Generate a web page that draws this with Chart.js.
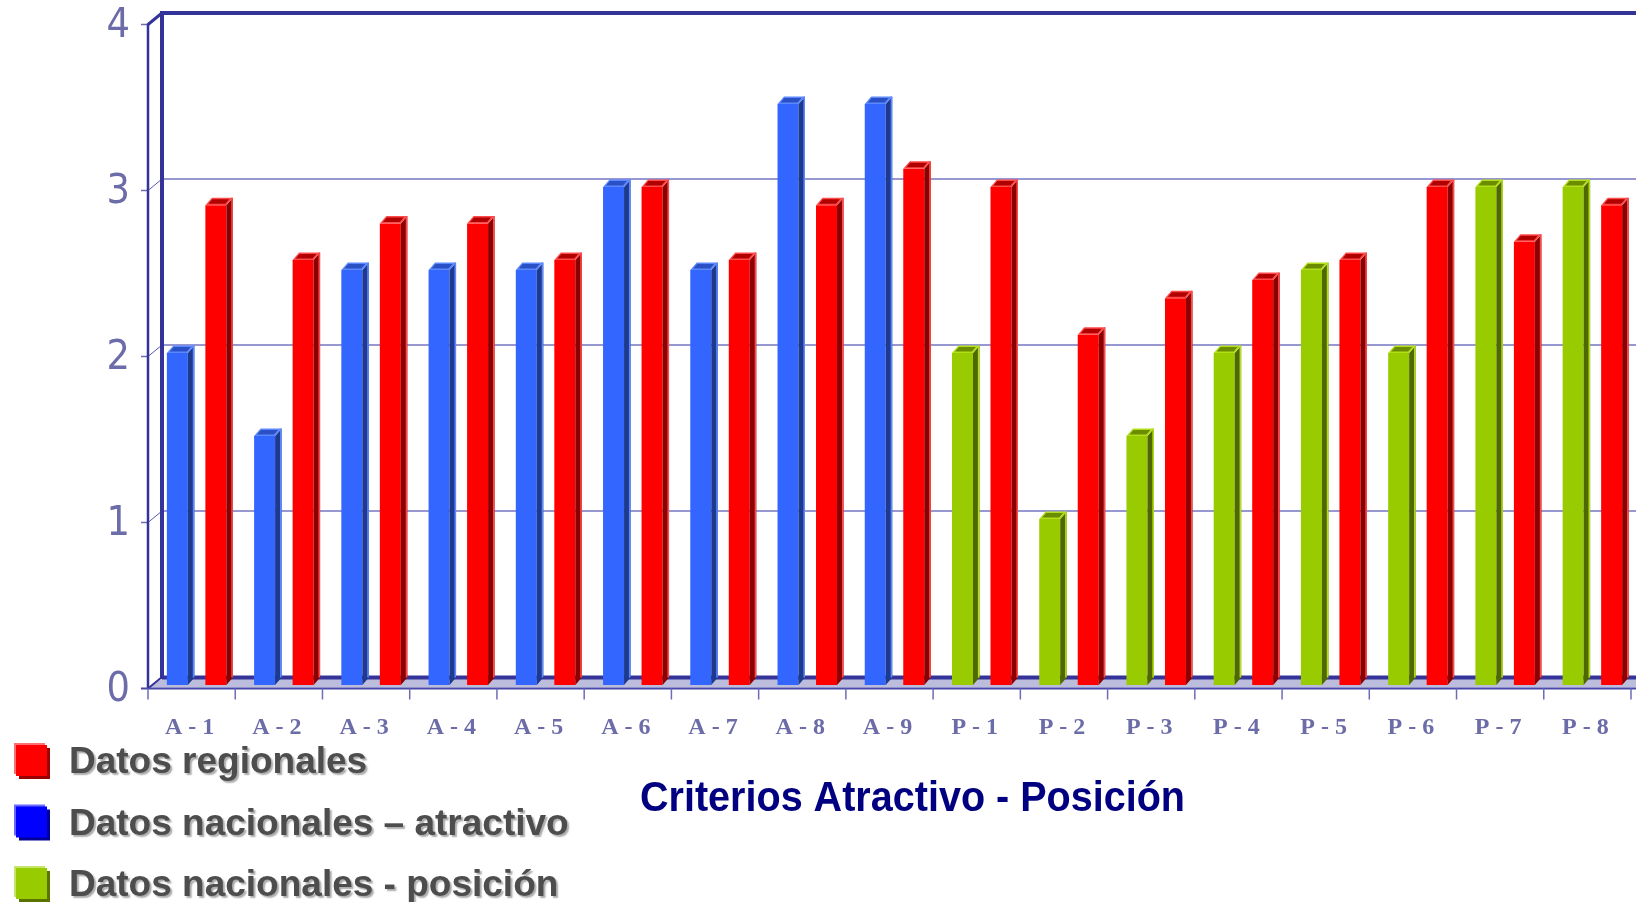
<!DOCTYPE html>
<html>
<head>
<meta charset="utf-8">
<script src="https://cdn.jsdelivr.net/npm/chart.js@4.4.1/dist/chart.umd.min.js"></script>
<style>
  html, body { margin: 0; padding: 0; background: #fff; overflow: hidden; }
</style>
</head>
<body>
<canvas id="chart" width="1636" height="902"></canvas>
<script>
var categories = ['A - 1', 'A - 2', 'A - 3', 'A - 4', 'A - 5', 'A - 6', 'A - 7', 'A - 8', 'A - 9',
                  'P - 1', 'P - 2', 'P - 3', 'P - 4', 'P - 5', 'P - 6', 'P - 7', 'P - 8'];
var nacionalAtractivo = [2, 1.5, 2.5, 2.5, 2.5, 3, 2.5, 3.5, 3.5];
var nacionalPosicion = [2, 1, 1.5, 2, 2.5, 2, 3, 3];
var regionales = [2.89, 2.56, 2.78, 2.78, 2.56, 3, 2.56, 2.89, 3.11,
                  3, 2.11, 2.33, 2.44, 2.56, 3, 2.67, 2.89];
var yTicks = [0, 1, 2, 3, 4];
var titulo = 'Criterios Atractivo - Posición';
var leyenda = [
  { text: 'Datos regionales', color: '#ff0000', light: '#ff7070', dark: '#990000' },
  { text: 'Datos nacionales \u2013 atractivo', color: '#0000ff', light: '#6a6aff', dark: '#000099' },
  { text: 'Datos nacionales - posición', color: '#99cc00', light: '#c6e36a', dark: '#5a7300' }
];

// national series only fill their own half of the categories
var atractivoData = nacionalAtractivo.concat(nacionalPosicion.map(function () { return null; }));
var posicionData = nacionalAtractivo.map(function () { return null; }).concat(nacionalPosicion);

var NAVY = '#333399';

function poly(ctx, pts, fill) {
  ctx.beginPath();
  ctx.moveTo(pts[0][0], pts[0][1]);
  for (var i = 1; i < pts.length; i++) ctx.lineTo(pts[i][0], pts[i][1]);
  ctx.closePath();
  ctx.fillStyle = fill;
  ctx.fill();
}

function line(ctx, x1, y1, x2, y2, w, c) {
  ctx.beginPath();
  ctx.moveTo(x1, y1);
  ctx.lineTo(x2, y2);
  ctx.lineWidth = w;
  ctx.strokeStyle = c;
  ctx.stroke();
}

function noPad(s) {
  s.paddingTop = 0;
  s.paddingBottom = 0;
  s.paddingLeft = 0;
  s.paddingRight = 0;
}

var frame3d = {
  id: 'frame3d',
  beforeDatasetsDraw: function (chart) {
    var ctx = chart.ctx, y = chart.scales.y, a = chart.chartArea;
    var fx = a.left - 5, bx = fx + 14, right = chart.width;
    var fy = function (v) { return y.getPixelForValue(v) + 3.5; };
    var by = function (v) { return y.getPixelForValue(v) - 8; };
    ctx.save();
    // floor
    poly(ctx, [[fx, fy(0) - 1], [bx, by(0) + 2], [right, by(0) + 2], [right, fy(0) - 1]], '#bcbcdc');
    line(ctx, bx, by(0) + 0.5, right, by(0) + 0.5, 4, NAVY);
    // back grid lines and little diagonals
    for (var v = 1; v < 4; v++) {
      line(ctx, bx, by(v), right, by(v), 1.5, '#7474c2');
      line(ctx, fx, fy(v), bx, by(v), 1, '#5a5ab4');
      line(ctx, fx - 7, fy(v), fx, fy(v), 1.5, '#6c6cb4');
    }
    line(ctx, fx - 7, fy(4), fx, fy(4), 1.5, '#6c6cb4');
    // walls
    line(ctx, bx, by(4), right, by(4), 4, NAVY);
    line(ctx, bx, by(4) - 2, bx, by(0) + 2, 4, NAVY);
    line(ctx, fx, fy(4), bx, by(4), 3, NAVY);
    line(ctx, fx, fy(0), bx, by(0), 2, NAVY);
    line(ctx, fx, fy(4) - 1, fx, fy(0), 2.5, NAVY);
    // front bottom axis and category ticks
    line(ctx, fx - 7, fy(0), right, fy(0), 2, '#4848a8');
    var w = (a.right - a.left) / categories.length;
    for (var k = 0; k <= categories.length; k++) {
      var tx = fx + k * w;
      line(ctx, tx, fy(0), tx, fy(0) + 11, 1.5, '#6c6cb8');
    }
    ctx.restore();
  },
  afterDatasetsDraw: function (chart) {
    var ctx = chart.ctx;
    ctx.save();
    chart.data.datasets.forEach(function (ds, i) {
      var meta = chart.getDatasetMeta(i);
      meta.data.forEach(function (bar, j) {
        if (ds.data[j] == null) return;
        var p = bar.getProps(['x', 'y', 'base', 'width'], true);
        var x0 = p.x - p.width / 2, x1 = p.x + p.width / 2, t = p.y, b = p.base;
        var d = 6.5, h = 7.5, s = d / h;
        poly(ctx, [[x1, t], [x1 + d, t - h], [x1 + d, b - h], [x1, b]], ds.sideColor);
        line(ctx, x1 + d - 0.8, t - h, x1 + d - 0.8, b - h, 1.6, ds.rimColor);
        poly(ctx, [[x0, t], [x0 + d, t - h], [x1 + d, t - h], [x1, t]], ds.rimColor);
        poly(ctx, [[x0 + 3, t - 1.5], [x0 + 3 + (h - 3) * s, t - h + 1.5],
                   [x1 - 1 + (h - 3) * s, t - h + 1.5], [x1 - 1, t - 1.5]], ds.capColor);
      });
    });
    ctx.restore();
  },
  afterDraw: function (chart) {
    var ctx = chart.ctx;
    ctx.save();
    // title
    ctx.font = 'bold 42px "Liberation Sans", Arial, sans-serif';
    ctx.fillStyle = '#000080';
    ctx.textAlign = 'left';
    ctx.textBaseline = 'alphabetic';
    ctx.fillText(titulo, 640, 811, 545);
    // legend
    leyenda.forEach(function (item, i) {
      var top = 745 + i * 61.5;
      ctx.fillStyle = item.dark;
      ctx.fillRect(19, top + 3, 31, 31);
      ctx.fillStyle = item.light;
      ctx.fillRect(14, top - 2, 31, 31);
      ctx.fillStyle = item.color;
      ctx.fillRect(16, top, 31, 31);
      ctx.font = 'bold 37px "Liberation Sans", Arial, sans-serif';
      ctx.shadowColor = 'rgba(150,150,150,0.8)';
      ctx.shadowOffsetX = 2;
      ctx.shadowOffsetY = 2;
      ctx.shadowBlur = 1.5;
      ctx.fillStyle = '#4d4d4d';
      ctx.fillText(item.text, 69, 773 + i * 61.5);
      ctx.shadowColor = 'transparent';
    });
    ctx.restore();
  }
};

var ctx = document.getElementById('chart');
new Chart(ctx, {
  type: 'bar',
  data: {
    labels: categories,
    datasets: [
      { label: 'Datos nacionales \u2013 atractivo', data: atractivoData, backgroundColor: '#3366ff',
        sideColor: '#1d3a8e', rimColor: '#5c88ff', capColor: '#2a50c6' },
      { label: 'Datos nacionales - posición', data: posicionData, backgroundColor: '#99cc00',
        sideColor: '#4f6800', rimColor: '#b2df1a', capColor: '#6b8c00' },
      { label: 'Datos regionales', data: regionales, backgroundColor: '#ff0000',
        sideColor: '#8b0000', rimColor: '#ff4a4a', capColor: '#b00000' }
    ]
  },
  options: {
    responsive: false,
    animation: false,
    devicePixelRatio: 1,
    layout: { padding: { top: 21, left: 0, right: 0, bottom: 0 } },
    datasets: { bar: { skipNull: true, categoryPercentage: 0.883, barPercentage: 0.545, borderWidth: 0 } },
    plugins: { legend: { display: false }, tooltip: { enabled: false }, title: { display: false } },
    scales: {
      x: {
        grid: { display: false, drawTicks: false },
        border: { display: false },
        ticks: {
          autoSkip: false, maxRotation: 0, minRotation: 0, padding: 28, labelOffset: -7,
          color: '#6c6ca8',
          font: { family: '"Liberation Serif", "Times New Roman", serif', weight: 'bold', size: 24 }
        },
        afterFit: function (s) { s.height = 217; noPad(s); }
      },
      y: {
        min: 0, max: 4,
        grid: { display: false, drawTicks: false },
        border: { display: false },
        afterBuildTicks: function (s) { s.ticks = yTicks.map(function (v) { return { value: v }; }); },
        ticks: {
          padding: 23, labelOffset: 5, color: '#6c6ca8',
          font: { family: '"Liberation Sans Narrow", "DejaVu Sans Condensed", sans-serif', size: 41 }
        },
        afterFit: function (s) { s.width = 153; noPad(s); }
      }
    }
  },
  plugins: [frame3d]
});
</script>
</body>
</html>
